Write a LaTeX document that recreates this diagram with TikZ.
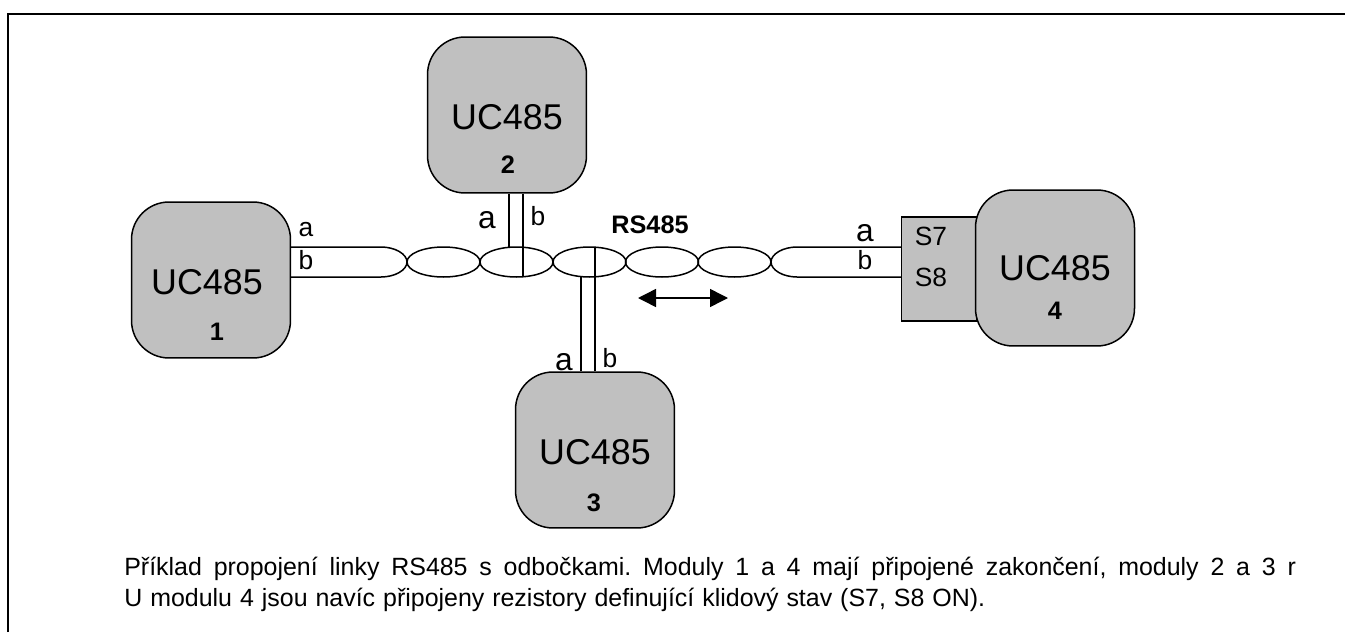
\documentclass[tikz,border=0pt]{standalone}
\usepackage{fontspec}
\setmainfont{Liberation Sans}
\usetikzlibrary{arrows.meta, shapes.geometric}
\definecolor{modulegray}{HTML}{C0C0C0}

\begin{document}
\frenchspacing
\begin{tikzpicture}[
      x=0.02cm, y=-0.02cm,
      module/.style={rectangle, rounded corners=0.75cm, draw=black, fill=modulegray, line width=0.03cm, minimum width=3.18cm, minimum height=3.12cm, align=center, text height=16.6pt, font=\fontsize{20.4}{24}\selectfont},
      termbox/.style={rectangle, draw=black, fill=modulegray, line width=0.03cm, minimum width=1.5cm, minimum height=2.08cm},
      twist/.style={ellipse, draw=black, line width=0.03cm, minimum width=1.46cm, minimum height=0.6cm, inner sep=0pt},
      wire/.style={draw=black, line width=0.03cm},
      num/.style={font=\fontsize{14.4}{16}\selectfont\bfseries, inner sep=0pt},
      lab/.style={font=\fontsize{15}{18}\selectfont, inner sep=0pt},
      biglab/.style={font=\fontsize{18}{20}\selectfont, inner sep=0pt},
      caption/.style={anchor=west, font=\fontsize{14.2}{16}\selectfont, inner sep=0pt},
      arrow/.style={{Triangle[length=0.36cm, width=0.36cm]}-{Triangle[length=0.36cm, width=0.36cm]}, black, line width=0.03cm},
    ]
    \useasboundingbox (0,0) rectangle (1345,632);

    \coordinate (framebl) at (8,632);
    \coordinate (framecorner) at (8,14);
    \coordinate (frametr) at (1345,14);
    \draw[line width=0.04cm] (framebl) -- (framecorner) -- (frametr);

    \node[module] (uc1) at (211,280) {\hspace*{-0.16cm}UC485};
    \node[module] (uc2) at (507,115) {UC485};
    \node[module] (uc3) at (595,450) {UC485};
    \node[termbox] (term) at (939,269) {};
    \node[module, text height=14.6pt] (uc4) at (1055,268) {UC485};

    \node[num] (n1) at (217,332) {1};
    \node[num] (n2) at (508,165) {2};
    \node[num] (n3) at (594,503) {3};
    \node[num] (n4) at (1055,311) {4};

    \node[twist] (tw1) at (443.5,262) {};
    \node[twist] (tw2) at (516.5,262) {};
    \node[twist] (tw3) at (589.5,262) {};
    \node[twist] (tw4) at (662,262) {};
    \node[twist] (tw5) at (734.5,262) {};

    \coordinate (lefta) at (381,247);
    \coordinate (leftb) at (381,277);
    \coordinate (righta) at (797,247);
    \coordinate (rightb) at (797,277);
    \coordinate (cross1) at (407,262);
    \coordinate (cross6) at (771,262);
    \coordinate (s2a) at (509,247);
    \coordinate (s2b) at (523,277);
    \coordinate (s3a) at (581,277);
    \coordinate (s3b) at (595,247);
    \coordinate (arrowl) at (638,298);
    \coordinate (arrowr) at (728,298);

    \draw[wire] (uc1.east |- lefta) -- (lefta) .. controls (395,247) and (407,254) .. (cross1);
    \draw[wire] (uc1.east |- leftb) -- (leftb) .. controls (395,277) and (407,270) .. (cross1);
    \draw[wire] (term.west |- righta) -- (righta) .. controls (783,247) and (771,254) .. (cross6);
    \draw[wire] (term.west |- rightb) -- (rightb) .. controls (783,277) and (771,270) .. (cross6);
    \draw[wire] (uc2.south -| s2a) -- (s2a);
    \draw[wire] (uc2.south -| s2b) -- (s2b);
    \draw[wire] (uc3.north -| s3a) -- (s3a);
    \draw[wire] (uc3.north -| s3b) -- (s3b);
    \draw[arrow] (arrowl) -- (arrowr);

    \node[lab] (a1) at (306,230) {a};
    \node[lab] (b1) at (306,260) {b};
    \node[biglab] (a2) at (487,220) {a};
    \node[lab] (b2) at (538,216) {b};
    \node[biglab] (a3) at (564,362) {a};
    \node[lab] (b3) at (610,358) {b};
    \node[biglab] (a4) at (865,233) {a};
    \node[lab] (b4) at (865,260) {b};
    \node[lab] (s7) at (931,236) {S7};
    \node[lab] (s8) at (931,277) {S8};
    \node[num] (rs) at (650,225) {RS485};

    \node[caption] (cap1) at (124,569) {\makebox[23.44cm][s]{Příklad propojení linky RS485 s odbočkami. Moduly 1 a 4 mají připojené zakončení, moduly 2 a 3 r}};
    \node[caption] (cap2) at (124,600) {\makebox[17.22cm][s]{U modulu 4 jsou navíc připojeny rezistory definující klidový stav (S7, S8 ON).}};
  \end{tikzpicture}
\end{document}
